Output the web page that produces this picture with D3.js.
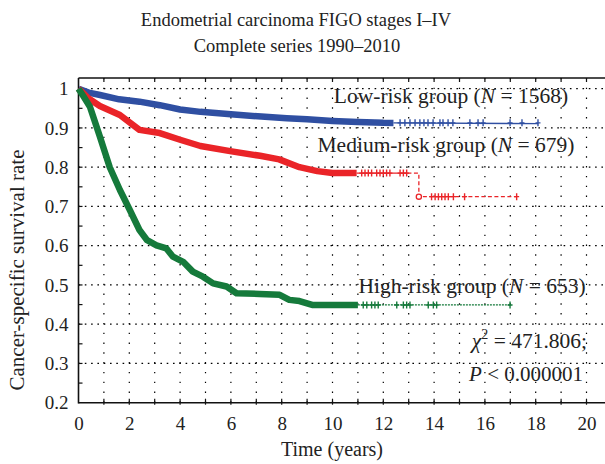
<!DOCTYPE html>
<html>
<head>
<meta charset="utf-8">
<script src="https://cdn.jsdelivr.net/npm/d3@7"></script>
<style>
  body { margin: 0; background: #fff; }
  svg { display: block; font-family: 'Liberation Serif', 'DejaVu Serif', serif; }
</style>
</head>
<body>
<svg id="km" width="605" height="464"></svg>
<script>
// DATA
const lowT  = [0, 0.4, 0.85, 1.6, 2.4, 3.2, 4.0, 4.8, 6.0, 7.2, 8.2, 9.0, 10.0, 11.0, 12.0, 18.1];
const lowS  = [1.0, 0.99, 0.984, 0.973, 0.967, 0.958, 0.947, 0.941, 0.935, 0.929, 0.925, 0.922, 0.918, 0.915, 0.913, 0.911];
const lowCensor = [12.66, 12.85, 13.05, 13.25, 13.44, 13.6, 13.76, 13.96, 14.23, 14.35, 14.55, 14.74, 15.41, 15.73, 15.93, 16.99, 17.46, 18.09];

const medT  = [0, 0.4, 0.84, 1.63, 2.4, 3.2, 4.0, 4.8, 5.97, 7.15, 7.9, 8.7, 9.4, 10.0, 13.4, 13.4, 17.25];
const medS  = [1.0, 0.975, 0.956, 0.933, 0.895, 0.887, 0.87, 0.854, 0.841, 0.829, 0.82, 0.80, 0.79, 0.785, 0.785, 0.725, 0.725];
const medCensor = [11.15, 11.28, 11.41, 11.54, 11.74, 11.87, 12.0, 12.13, 12.26, 12.66, 12.79, 12.92,
                   13.9, 14.04, 14.17, 14.3, 14.43, 14.56, 14.76, 15.2, 17.25];

const highT = [0, 0.2, 0.45, 0.84, 1.23, 1.63, 2.02, 2.4, 2.7, 3.07, 3.46, 3.72, 4.12, 4.5, 4.9, 5.3, 5.83, 6.22, 7.13, 7.92, 8.3, 8.7, 9.2, 17.0];
const highS = [1.0, 0.98, 0.954, 0.878, 0.80, 0.742, 0.691, 0.64, 0.614, 0.601, 0.593, 0.572, 0.559, 0.534, 0.521, 0.504, 0.496, 0.479, 0.477, 0.475, 0.462, 0.459, 0.449, 0.449];
const highCensor = [11.21, 11.35, 11.54, 11.67, 11.8, 12.53, 12.79, 12.92, 13.05, 13.77, 13.97, 14.1, 16.99];

const xTicks = [0, 2, 4, 6, 8, 10, 12, 14, 16, 18, 20];
const yTicks = [0.2, 0.3, 0.4, 0.5, 0.6, 0.7, 0.8, 0.9, 1];

const groups = [
  { name: 'Low-risk group', n: 1568, t: lowT, s: lowS, censor: lowCensor, color: '#2f4fa2', denseEnd: 12.4, tailDash: null, tailStart: 12.4 },
  { name: 'Medium-risk group', n: 679, t: medT, s: medS, censor: medCensor, color: '#ea2428', denseEnd: 10.95, tailDash: '4,2.5', tailStart: 12.95 },
  { name: 'High-risk group', n: 653, t: highT, s: highS, censor: highCensor, color: '#157a3b', denseEnd: 11.0, tailDash: '2,1', tailStart: 11.0 },
];

//SETUP
const svg = d3.select('#km');
const padding = { top: 78, right: 0, bottom: 61, left: 78.5 };
const width = +svg.attr('width');

const xScale = d3.scaleLinear().domain([0, 20.7]).range([padding.left, padding.left + 20.7 * 25.4]);
const yScale = d3.scaleLinear().domain([0.2, 1]).range([402.7, 88.7]);
const yTop = padding.top;
const yBottom = yScale(0.2);

//GRID
const grid = svg.append('g').attr('stroke', '#000').attr('stroke-width', 1.2);
grid.selectAll('.vgrid')
  .data(d3.range(1, 21))
  .enter()
  .append('line')
  .attr('x1', (d) => xScale(d)).attr('x2', (d) => xScale(d))
  .attr('y1', yBottom).attr('y2', yTop)
  .attr('stroke-dasharray', '1.4,8.4');

grid.selectAll('.hgrid')
  .data(d3.range(3, 11).map((d) => d / 10))
  .enter()
  .append('line')
  .attr('x1', padding.left).attr('x2', width)
  .attr('y1', (d) => yScale(d)).attr('y2', (d) => yScale(d))
  .attr('stroke-dasharray', '1.6,4.7');

//AXES
const xAxis = d3.axisBottom(xScale).tickValues(xTicks).tickSize(0).tickPadding(14).tickFormat(d3.format('d'));
svg.append('g')
  .attr('transform', `translate(0,${yBottom})`)
  .call(xAxis)
  .call((g) => g.select('.domain').remove())
  .selectAll('text')
  .attr('font-size', 19).attr('font-family', 'Liberation Serif').attr('fill', '#222');

const yAxis = d3.axisLeft(yScale).tickValues(yTicks).tickSize(0).tickPadding(10).tickFormat((d) => (d === 1 ? '1' : d3.format('.1f')(d)));
svg.append('g')
  .attr('transform', `translate(${padding.left},0)`)
  .call(yAxis)
  .call((g) => g.select('.domain').remove())
  .selectAll('text')
  .attr('font-size', 19).attr('font-family', 'Liberation Serif').attr('fill', '#222');

// frame lines
const frame = svg.append('g').attr('stroke', '#111').attr('stroke-width', 1.6);
frame.append('line').attr('x1', padding.left).attr('x2', padding.left).attr('y1', yTop).attr('y2', yBottom + 0.8);
frame.append('line').attr('x1', padding.left).attr('x2', width).attr('y1', yBottom).attr('y2', yBottom);
frame.append('line').attr('x1', padding.left).attr('x2', width).attr('y1', yTop).attr('y2', yTop);

// minor ticks
const ticks = svg.append('g').attr('stroke', '#111').attr('stroke-width', 1.2);
ticks.selectAll('.xt')
  .data(d3.range(1, 21))
  .enter()
  .append('line')
  .attr('x1', (d) => xScale(d)).attr('x2', (d) => xScale(d))
  .attr('y1', yBottom + 2).attr('y2', yBottom - 4);
ticks.selectAll('.xtt')
  .data(d3.range(1, 21))
  .enter()
  .append('line')
  .attr('x1', (d) => xScale(d)).attr('x2', (d) => xScale(d))
  .attr('y1', yTop).attr('y2', yTop + 4);
ticks.selectAll('.yt')
  .data(d3.range(5, 20).map((d) => d / 20))
  .enter()
  .append('line')
  .attr('x1', padding.left).attr('x2', padding.left + 4)
  .attr('y1', (d) => yScale(d)).attr('y2', (d) => yScale(d));

//CURVES
const line = d3.line()
  .x((d) => xScale(d[0]))
  .y((d) => yScale(d[1]));

function cut(pts, a, b) {
  // part of a piecewise-linear curve between times a and b
  const valAt = (t) => {
    for (let i = 1; i < pts.length; i++) {
      if (t <= pts[i][0] && pts[i][0] > pts[i - 1][0]) {
        const f = (t - pts[i - 1][0]) / (pts[i][0] - pts[i - 1][0]);
        return pts[i - 1][1] + f * (pts[i][1] - pts[i - 1][1]);
      }
    }
    return pts[pts.length - 1][1];
  };
  const out = [[a, valAt(a)]];
  pts.forEach((p) => { if (p[0] > a && p[0] < b) out.push(p); });
  const last = pts[pts.length - 1];
  if (b >= last[0]) {
    pts.forEach((p) => { if (p[0] === last[0]) out.push(p); });
  } else {
    out.push([b, valAt(b)]);
  }
  return out;
}

groups.forEach((g) => {
  const pts = g.t.map((t, i) => [t, g.s[i]]);
  const tEnd = g.t[g.t.length - 1];
  const layer = svg.append('g');

  // dense censoring band
  layer.append('path')
    .attr('d', line(cut(pts, 0, g.denseEnd)))
    .attr('fill', 'none')
    .attr('stroke', g.color)
    .attr('stroke-width', 6.5)
    .attr('stroke-linejoin', 'round')
    .attr('stroke-linecap', 'butt');

  // thin solid part after the band
  if (g.tailStart > g.denseEnd) {
    layer.append('path')
      .attr('d', line(cut(pts, g.denseEnd, g.tailStart)))
      .attr('fill', 'none')
      .attr('stroke', g.color)
      .attr('stroke-width', 1.4);
  }

  // tail
  layer.append('path')
    .attr('d', line(cut(pts, g.tailStart, tEnd)))
    .attr('fill', 'none')
    .attr('stroke', g.color)
    .attr('stroke-width', g.tailDash ? 1.3 : 1.4)
    .attr('stroke-dasharray', g.tailDash);

  // censor marks
  const valAt = (t) => {
    let v = g.s[0];
    for (let i = 0; i < g.t.length; i++) if (g.t[i] <= t) v = g.s[i];
    return v;
  };
  layer.selectAll('.cens')
    .data(g.censor)
    .enter()
    .append('path')
    .attr('d', (d) => {
      const x = xScale(d);
      const y = yScale(valAt(d));
      return `M${x},${y - 3.5}V${y + 3.5}M${x - 2.5},${y}H${x + 2.5}`;
    })
    .attr('stroke', g.color)
    .attr('stroke-width', 1.4)
    .attr('fill', 'none');
});

// drop point marker on medium-risk curve
svg.append('circle')
  .attr('cx', xScale(medT[14]))
  .attr('cy', yScale(medS[15]))
  .attr('r', 2.6)
  .attr('fill', '#fff')
  .attr('stroke', '#ea2428')
  .attr('stroke-width', 1.3);

//TEXT
const label = (x, y, anchor, size) => svg.append('text')
  .attr('x', x).attr('y', y)
  .attr('text-anchor', anchor)
  .attr('font-size', size || 19)
  .attr('fill', '#222');

label(296, 26, 'middle', 18.5).text('Endometrial carcinoma FIGO stages I–IV');
label(297, 52, 'middle', 18.5).text('Complete series 1990–2010');

const groupLabelPos = [[451, 103], [446, 152], [472, 293]];
groups.forEach((g, i) => {
  const t = label(groupLabelPos[i][0], groupLabelPos[i][1], 'middle', 21.5);
  t.append('tspan').text(`${g.name} (`);
  t.append('tspan').attr('font-style', 'italic').text('N');
  t.append('tspan').text(` = ${g.n})`);
});

const chi = label(587, 348, 'end', 21.5);
chi.append('tspan').attr('font-style', 'italic').text('χ');
chi.append('tspan').attr('font-size', 14).attr('dy', -9).text('2');
chi.append('tspan').attr('dy', 9).text(' = 471.806;');

const p = label(583, 381, 'end', 21);
p.append('tspan').attr('font-style', 'italic').text('P');
p.append('tspan').text(' < 0.000001');

label(332, 456, 'middle', 20).text('Time (years)');

svg.append('text')
  .attr('transform', 'rotate(-90)')
  .attr('x', -270)
  .attr('y', 24)
  .attr('text-anchor', 'middle')
  .attr('font-size', 21)
  .attr('fill', '#222')
  .text('Cancer-specific survival rate');
</script>
</body>
</html>
